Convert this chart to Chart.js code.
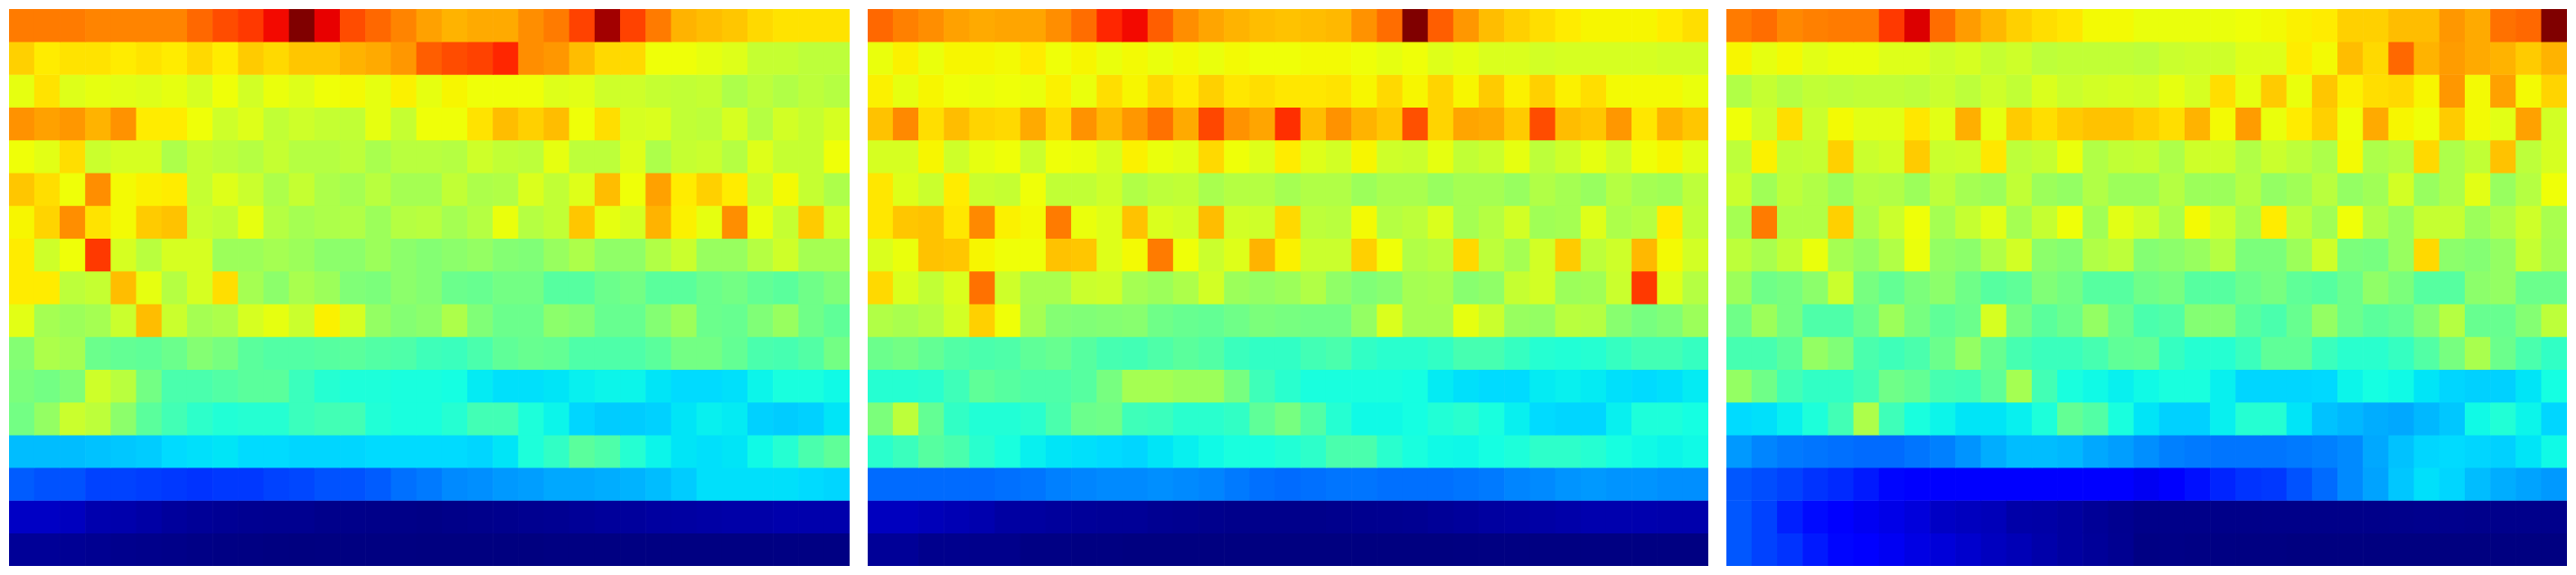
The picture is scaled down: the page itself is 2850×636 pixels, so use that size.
<!DOCTYPE html>
<html>
<head>
<meta charset="utf-8">
<script src="https://cdn.jsdelivr.net/npm/chart.js@4/dist/chart.umd.min.js"></script>
<style>
body { margin: 0; background: #fff; }
canvas { position: absolute; top: 10px; }
#panel1 { left: 10px; }
#panel2 { left: 960px; }
#panel3 { left: 1910px; }
</style>
</head>
<body>
<canvas id="panel1" width="930" height="616"></canvas>
<canvas id="panel2" width="930" height="616"></canvas>
<canvas id="panel3" width="930" height="616"></canvas>
<script>
// values are on the 0-100 colour scale, one inner list per row, top row first
var columns = [];
for (var c = 0; c < 33; c++) columns.push(c);

var panel1 = [
[78,78,78,77,77,77,77,80,83,85,90,100,91,83,80,77,74,72,73,73,76,78,84,97,84,78,72,71,70,68,67,67,67],
[69,66,67,67,66,67,66,68,66,69.5,68,70,70,72,73,75,81,83,84,87,76,75,71,68,68,64,64,63,62,59,59,58,58],
[63,67,62,63,62.5,62,63,61,64,60.5,63.5,62,64,64.5,63,65.5,63,65,64,64,64,62,62.5,60,60,59,58.5,59,56,58,56.5,58,57],
[75.5,74,75,72,75.5,66,66,64,60,62,58.5,60,59,58.5,63,59,64,64,67,71,69,71,64,67.5,61,61.5,58.5,58,61,57,60.5,59,61],
[64,62.5,67.5,59.5,61,61,56,59,58,57,59,57,57,58,55.5,57.5,57.5,57,60,58.5,58,63,58,58,62,56,59,59.5,57,62,59,59,64],
[70,67.5,64,76,64.5,65.5,66,59,62,59.5,56,59,56,55,57.5,55,55,58.5,56,56.5,61.5,58.5,62,71,64,74,66,69,66,59.5,64.5,59,56],
[65,68.5,76,67,64.5,69.5,70.5,59.5,58.5,63,57,55,56,56.5,54,57,57.5,55,57,63.5,57,58.5,70,63,61,72,65.5,63,76,63.5,59,69.5,60.5],
[66,60,64,85,61,57.5,61,61,54,54,55,54,52,52,54,52,51,52,53,51,50.5,53.5,56,52.5,52.5,56.5,59.5,53.5,53.5,57,60,55,55],
[66,66,58,59,71,63,57,61,67.5,55,52,55.5,54,50.5,50,52,51,48,47.5,49,49,45.5,45.5,48,49,46,46,48,49,47,46,48.5,50.5],
[62.5,55,54,55,59.5,71,59.5,55,56,61,63,59.5,65.5,61,53,51,52,56,50.5,48,48,52,51,47.5,47.5,51,54,48,47.5,50.5,53.5,48.5,46.5],
[51,56,55,48,47,46.5,48,51,49.5,46,45,45,45.5,46,45,44.5,42.5,42,44,46.5,47.5,47,44.5,44.5,44.5,46,49,49,47,44,43.5,45,49],
[50,49,50.5,60,57.5,49,44,44,45,46,46,42,39.5,38.5,38.5,38,38,37.5,35.5,34.5,34.5,35,36,36.5,36.5,35,34,34,34.5,36.5,38,38,37],
[49,53,59.5,58,52,46,43,40.5,39,39.5,39.5,42,43,43,39,38,38,39.5,43,43,38.5,36.5,33.5,32.5,32.5,33,35,36,35.5,33,32.5,33,35],
[31,31,31,31.5,32,32.5,34,34.5,35,34,34,33.5,33.5,33.5,34,34,34,34,33.5,35,38.5,41,46,44.5,39.5,36.5,35,34.5,35,37,39.5,44,46.5],
[21.5,20.5,20.5,19,19,18.5,18,17.5,18,18,19,19.5,20.5,20.5,21.5,23.5,24.5,26,26.5,27.5,28,29,29,29.5,30,31,32.5,34.5,34.5,34.5,34.5,34,33.5],
[6,6,5.5,4,3.8,3.2,2.5,2,1.8,1.5,1.4,1.4,1,0.9,0.8,0.7,0.6,0.8,1,1.2,1.4,1.6,2,2.4,2.5,2.8,3,3.2,3.5,3.5,3.8,3.8,3.8],
[2,2,1.8,1.5,1.2,1,0.8,0.6,0.4,0.3,0.1,0,0.1,0.1,0.1,0.1,0,0,0,0,0,0.2,0.2,0.2,0.2,0.2,0.2,0.2,0.2,0.2,0.3,0.3,0.3]
];

var panel2 = [
[80,77.5,76,74,73,73.5,73.5,76,79.5,87,90,81,76,73.5,72,71,70.5,71,71.5,75.5,79.5,100,81,75,71,69,67.5,66,65,65,65,66,67.5],
[63.5,65.5,63.5,65,65,64.5,66,64,65,63.5,64.5,63.5,64.5,63.5,64.5,64,64,64.5,64.5,64,63,64,62,63,61.5,61.5,60.5,61,61,61,61,60.5,60.5],
[65.5,63,65,64,63.5,64,63.5,65.5,63.5,67.5,65,68,66,69,66.5,67.5,66.5,66.5,67,65,68,65,68.5,65,69.5,65.5,69,65.5,67.5,64.5,64.5,64.5,63.5],
[70.5,76.5,67.5,71,68.5,68,73,68,75.5,71.5,75,79,73,83.5,75.5,73.5,86,71,75.5,72,70,82.5,68.5,73.5,73,69.5,83,71,70,75,66.5,72,70],
[61,61,65,60,63,64,59.5,64,63.5,61,65.5,63.5,62.5,68,64,62,66,62,60.5,65,60,59.5,63,58.5,59.5,63,58,60,63,60,64,65,62.5],
[66.5,62,59.5,66,59.5,59,64,58.5,58.5,60,56.5,58,58.5,55.5,57,57,55,56.5,56.5,54,55.5,55.5,53.5,55,55,53.5,56.5,55,53.5,57,55,54.5,58],
[66.5,70,70.5,66.5,76.5,65.5,64.5,78,63.5,62,70.5,61.5,60.5,71,60.5,60,68,58,57.5,64.5,57,58,61.5,55,57,60.5,54.5,55,62,56,57,66,58.5],
[61.5,63.5,70.5,70,65,64,64,70.5,70,62,64.5,78,64,59.5,62,72,65.5,59.5,59.5,69,64,56.5,57.5,68,58,55,60.5,69.5,58,60,71.5,64.5,60.5],
[68,61.5,58.5,61.5,79,60,55.5,55.5,59.5,60,55,54,56,60.5,54,53,54,56.5,52.5,50.5,51.5,55,55.5,51.5,52.5,59,60.5,54,54.5,59.5,85,62,57],
[56.5,55.5,57,60.5,69,64,55,51,50.5,51,51.5,48.5,47.5,47,48.5,50,49.5,49,49,53,61.5,55,55,63,59.5,53.5,53,57.5,57,51.5,49.5,50.5,54],
[48,49,47,45,44,44.5,46.5,47.5,45.5,43.5,43,44.5,46,45,42,41,41,43,44,41,40,40,41,43.5,43.5,41.5,39.5,39,39.5,41.5,43,43,41.5],
[39.5,39.5,40,42.5,46.5,45.5,44.5,44.5,45.5,49.5,55,55,54,54,49.5,42.5,40,38,38,38,38,37.5,35.5,34.5,34,34,35.5,36,35.5,34.5,34,34.5,35.5],
[50,58,47,41,39,39,40,44,48,48.5,42.5,42,40,40,41,46.5,49.5,45,39.5,37,37,37.5,39,40,38,36,34,33.5,33.5,36,38.5,38.5,37.5],
[40,42,45.5,44,40,38,36,35,34.5,34,33.5,35,36,37,38,38,39,40.5,44,44,40,38,37,36.8,37.5,38.5,40.5,40.5,39.5,37.8,37,36.5,37],
[23,23,23,23,23,23.5,24,25,25.5,26,26,26.5,26,25.5,24.5,23.5,23,23.5,24,24,23.5,23.5,23.5,24,24.5,25.5,26,27,27.5,27,27,26.5,26.5],
[5.5,5.5,5,4.5,4,3,2.8,2.5,2.2,2,2,1.6,1.4,1.2,1,1,1,1,1.2,1.3,1.4,1.6,2,2.4,2.8,3,3.2,3.6,4,4,4,3.8,3.8],
[2,2,1.2,1.2,1,1,0.4,0.4,0.2,0.2,0,0,0,0,0,0,0,0,0,0,0,0,0,0.1,0.2,0.2,0.2,0.2,0.2,0.2,0.2,0.2,0.2]
];

var panel3 = [
[78,79.5,76.5,77.5,78,78,85,92,79.5,74.5,71.5,69,67.5,66.5,64.5,64.5,63.5,63.5,63.5,63.5,64,64.5,65.5,66,69,69,71,71,75,73,79,80,100],
[65,63,64.5,62.5,63.5,63.5,62,62,60,61,59,60,58,58.5,58.5,58.5,58,59.5,60,60,62,62,66,64.5,71,68,80,72,74.5,73,72,69.5,72],
[56.5,59,57,58.5,58,58.5,58.5,58,59.5,58,60,58.5,61.5,59.5,60.5,61,60.5,63,61,67.5,63,69.5,63.5,70,65.5,67.5,68,65,75,64.5,74,64.5,68.5],
[64,60,67.5,59.5,64.5,62.5,62.5,66.5,62.5,72.5,63,69.5,67.5,69.5,70.5,70.5,69,67.5,72,64.5,74.5,63.5,66,69,64,73,65,64,69.5,64.5,62.5,74,60.5],
[58,65.5,58.5,59,69,59.5,60.5,69.5,59.5,60,66.5,58,59,63.5,56.5,58.5,59,56,60,60,56.5,59.5,58,56,64.5,56,57,68,56,58.5,70.5,58,61],
[59.5,54.5,58,56.5,54,57,56.5,54,58,55,54,58.5,54,53,56.5,54,54,57,54,54,57,53,54.5,57.5,53,54.5,60.5,53.5,56,62.5,53.5,57,64],
[55,78,56.5,56.5,69,56,59.5,64,55,59,62.5,55,59,64,54.5,62.5,60,55.5,64.5,60,55,66,58,54.5,64,56.5,53.5,59,59,54,56.5,60,55.5],
[58,55.5,58.5,63.5,55,53,56.5,63.5,53,52,56.5,60.5,52,51,56.5,58,51,52,53.5,57,50,50,54,60,50,49.5,53.5,68,52,51,53,59,55],
[54,48.5,49.5,52,59.5,49.5,47,50,52,48.5,45.5,46.5,50.5,49,45.5,45.5,48.5,49.5,45.5,45.5,48,49.5,46.5,45.5,48,52.5,50,45.5,45.5,52,53,48,48],
[48.5,54,49.5,44.5,44.5,48,54,49.5,46.5,48,61,49.5,46,48,53,48,44,45,51,51,46,44,47.5,53,48,46,47,51,57,47.5,47.5,51,58],
[43.5,43.5,46,53,50.5,44,42.5,44,48,53,47.5,43.5,42,42,43.5,46.5,47,41.5,39.5,39.5,42,46.5,46.5,42,40,40,41.5,45,49.5,55.5,48,44,41],
[53,48.5,43,41,41,43,48.5,47,43.5,43,46.5,55,43,38,37,36,37,38,38,36,33.5,33.5,33.5,33.8,36.5,37.5,37,35,33.5,33,33,35,37.5],
[34,34.5,36,38.5,43,56,42.5,38,36.5,35,35,36,38.5,47,45,38,35,33,33,36,39.5,39.5,35,31.5,30.5,29.5,29,30.5,32,37,39,36.5,33.5],
[27.5,25.5,24.5,24,23.5,23,23,24,25,27,29.5,31,31,30.5,29,28,26.5,25,24.5,24,24,24,24.5,25,26,29,31.5,33.5,34,33.5,33,35,37],
[21,20,19,17.5,16.5,15,13,12,12,11.5,11.5,11.5,11.5,11.5,11.5,11.5,10,12,14,16,17.5,18,20.5,23,26,28.5,32,34.5,33.5,31,29.5,28.5,27.5],
[21,19,15.5,13.5,11,10,9,8,6,5.5,5,3.5,3.3,2.8,2,1.4,0.8,0.8,0.8,0.8,0.8,0.8,0.8,0.8,0.8,0.9,1,1.2,1.2,1,1,1,1],
[21,19,17.5,15,13,11.5,10,8.7,7.7,6.7,5.5,4.7,3.7,2.8,2.2,1.5,0.4,0.6,0.4,0.3,0.2,0.2,0,0,0,0,0,0,0,0,0.1,0.1,0.1]
];

// jet colormap
function lerp(t, xs, ys) {
	for (var i = 1; i < xs.length; i++) {
		if (t <= xs[i]) return ys[i-1] + (ys[i] - ys[i-1]) * (t - xs[i-1]) / (xs[i] - xs[i-1]);
	}
	return ys[ys.length-1];
}
function jet(v) {
	var t = v / 100;
	var r = lerp(t, [0, .35, .66, .89, 1], [0, 0, 1, 1, .5]);
	var g = lerp(t, [0, .125, .375, .64, .91, 1], [0, 0, 1, 1, 0, 0]);
	var b = lerp(t, [0, .11, .34, .65, 1], [.5, 1, 1, 0, 0]);
	return 'rgb(' + Math.round(r*255) + ',' + Math.round(g*255) + ',' + Math.round(b*255) + ')';
}

function drawPanel(id, rows) {
	var ctx = document.getElementById(id).getContext('2d');
	new Chart(ctx, {
		type: 'bar',
		data: {
			labels: columns,
			datasets: rows.map(function(row) {
				return {
					data: columns.map(function() { return 1; }),
					backgroundColor: row.map(jet),
					borderWidth: 0,
					barPercentage: 1,
					categoryPercentage: 1
				};
			})
		},
		options: {
			responsive: false,
			animation: false,
			layout: { padding: 0 },
			plugins: { legend: { display: false }, tooltip: { enabled: false } },
			scales: {
				x: { display: false, stacked: true },
				y: { display: false, stacked: true, reverse: true, min: 0, max: rows.length }
			}
		}
	});
}

drawPanel('panel1', panel1);
drawPanel('panel2', panel2);
drawPanel('panel3', panel3);
</script>
</body>
</html>
